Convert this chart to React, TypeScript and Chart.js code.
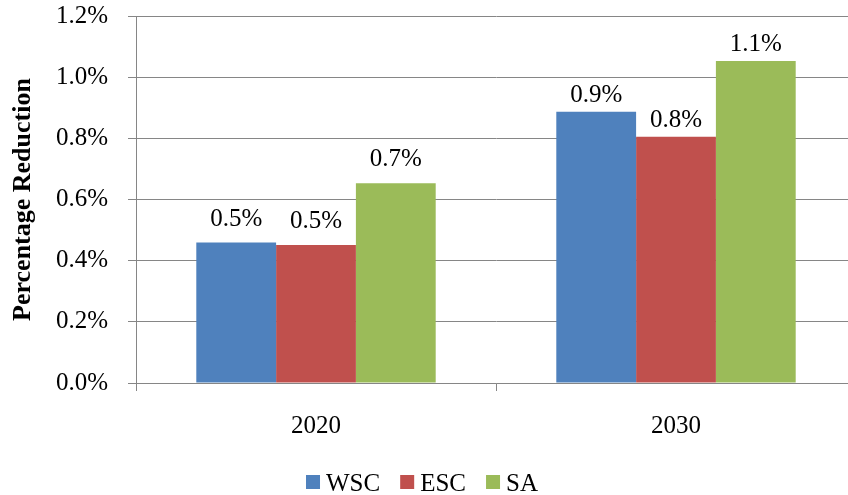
import { useEffect, useRef } from "react";
import { Chart, registerables } from "chart.js";

Chart.register(...registerables);

// Percentage reduction by region and year
const years = ["2020", "2030"];
const wscValues = [0.459, 0.887];
const escValues = [0.451, 0.805];
const saValues = [0.653, 1.053];
const yTickValues = [0, 0.2, 0.4, 0.6, 0.8, 1.0, 1.2];

const FONT_FAMILY = "'Liberation Serif', 'Times New Roman', serif";
const GRID_GRAY = "#868686";

// Value labels drawn above each bar, formatted from the bar's own value
const valueLabels = {
  id: "valueLabels",
  afterDatasetsDraw(chart: any, _args: any, opts: any) {
    const { ctx } = chart;
    ctx.save();
    ctx.font = `${opts.size}px ${FONT_FAMILY}`;
    ctx.fillStyle = "#000";
    ctx.textAlign = "center";
    ctx.textBaseline = "alphabetic";
    chart.data.datasets.forEach((ds: any, di: number) => {
      const meta = chart.getDatasetMeta(di);
      meta.data.forEach((bar: any, i: number) => {
        const v = ds.data[i] as number;
        ctx.fillText(`${v.toFixed(1)}%`, bar.x, bar.y - opts.gaps[i]);
      });
    });
    ctx.restore();
  },
};

// Legend row of square swatches centred under the chart
const swatchLegend = {
  id: "swatchLegend",
  afterDraw(chart: any, _args: any, opts: any) {
    const { ctx } = chart;
    ctx.save();
    ctx.font = `${opts.size}px ${FONT_FAMILY}`;
    ctx.textBaseline = "alphabetic";
    ctx.textAlign = "left";
    const box = 14;
    const textGap = 6;
    const itemGap = 20;
    const items = chart.data.datasets.map((d: any) => ({
      label: d.label as string,
      color: d.backgroundColor as string,
      w: ctx.measureText(d.label).width,
    }));
    const total =
      items.reduce((s: number, it: any) => s + box + textGap + it.w, 0) +
      itemGap * (items.length - 1);
    let x = opts.centerX - total / 2;
    for (const it of items) {
      ctx.fillStyle = it.color;
      ctx.fillRect(x, opts.baseline - 16, box, box);
      ctx.fillStyle = "#000";
      ctx.fillText(it.label, x + box + textGap, opts.baseline);
      x += box + textGap + it.w + itemGap;
    }
    ctx.restore();
  },
};

export default function App() {
  const canvasRef = useRef<HTMLCanvasElement | null>(null);

  useEffect(() => {
    if (!canvasRef.current) return;
    const tickFont = { family: FONT_FAMILY, size: 25 };
    const chart = new Chart(canvasRef.current, {
      type: "bar",
      data: {
        labels: years,
        datasets: [
          { label: "WSC", data: wscValues, backgroundColor: "#4F81BD" },
          { label: "ESC", data: escValues, backgroundColor: "#C0504D" },
          { label: "SA", data: saValues, backgroundColor: "#9BBB59" },
        ],
      },
      options: {
        responsive: false,
        animation: false,
        devicePixelRatio: 1,
        layout: { padding: { top: 16, left: 0, right: 0, bottom: 0 } },
        datasets: {
          bar: { categoryPercentage: 0.665, barPercentage: 1, borderWidth: 0 },
        },
        plugins: {
          legend: { display: false },
          tooltip: { enabled: false },
          valueLabels: { size: 25, gaps: [17, 10] },
          swatchLegend: { size: 25, centerX: 422, baseline: 491 },
        } as any,
        scales: {
          x: {
            grid: {
              display: true,
              drawOnChartArea: false,
              drawTicks: true,
              tickLength: 8,
              color: GRID_GRAY,
              offset: true,
            },
            border: { display: true, color: GRID_GRAY, width: 1 },
            ticks: { font: tickFont, color: "#000", padding: 20 },
            afterFit: (s: any) => {
              s.height = 112;
              s.paddingLeft = 0;
              s.paddingRight = 0;
            },
          },
          y: {
            min: 0,
            max: 1.2,
            afterBuildTicks: (s: any) => {
              s.ticks = yTickValues.map((v) => ({ value: v }));
            },
            ticks: {
              font: tickFont,
              color: "#000",
              padding: 20,
              callback: (v: any) => `${Number(v).toFixed(1)}%`,
            },
            grid: { color: GRID_GRAY, tickLength: 8, drawTicks: true },
            border: { display: true, color: GRID_GRAY, width: 1 },
            title: {
              display: true,
              text: "Percentage Reduction",
              color: "#000",
              font: { family: FONT_FAMILY, size: 26, weight: "bold" },
              padding: { top: 8, bottom: 0 },
            },
            afterFit: (s: any) => {
              s.width = 136;
              s.paddingTop = 0;
              s.paddingBottom = 0;
            },
          },
        },
      },
      plugins: [valueLabels, swatchLegend],
    });
    return () => chart.destroy();
  }, []);

  return (
    <div
      style={{
        position: "fixed",
        left: 0,
        top: 0,
        width: 848,
        height: 495,
        overflow: "hidden",
        background: "#fff",
      }}
    >
      <canvas ref={canvasRef} width={856} height={495} style={{ display: "block" }} />
    </div>
  );
}
